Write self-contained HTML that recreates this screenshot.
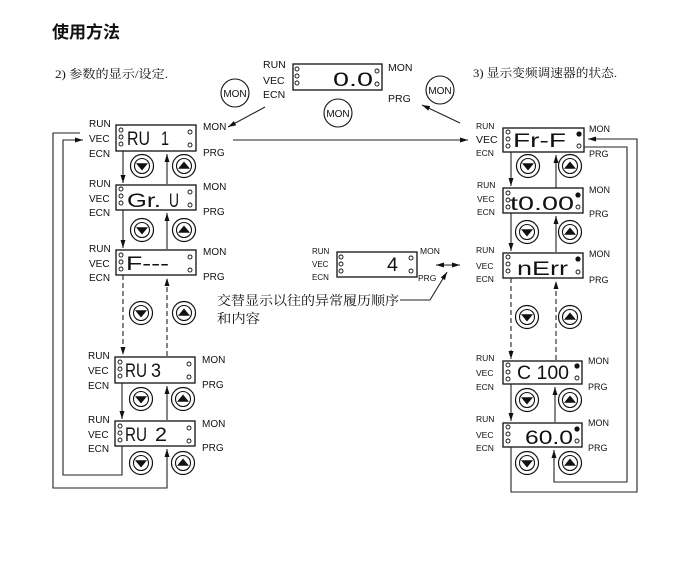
<!DOCTYPE html>
<html><head><meta charset="utf-8">
<style>
html,body{margin:0;padding:0;background:#fff;}
svg{display:block;}
.lb{font-family:"Liberation Sans",Arial,sans-serif;fill:#111;}
.dg{font-family:"Liberation Sans Narrow","Liberation Sans",sans-serif;font-size:19px;fill:#111;}
.cj{font-family:"Liberation Serif","Noto Serif CJK SC","Noto Sans CJK SC",serif;fill:#111;}
.ln{fill:none;stroke:#222;stroke-width:1.1;}
.bx{fill:#fff;stroke:#111;stroke-width:1.3;}
.led{fill:#fff;stroke:#111;stroke-width:0.9;}
</style></head>
<body>
<svg width="673" height="576" viewBox="0 0 673 576" xmlns="http://www.w3.org/2000/svg">
<defs>
<marker id="ar" viewBox="0 0 8 6" markerWidth="8" markerHeight="6" refX="8" refY="3" orient="auto-start-reverse" markerUnits="userSpaceOnUse"><path d="M0,0.5 L8,3 L0,5.5 z" fill="#111"/></marker>
<g id="dn"><circle r="11.5" fill="#fff" stroke="#111" stroke-width="1.2"/><circle r="7.5" fill="none" stroke="#111" stroke-width="1.1"/><path d="M-6,-2.8 L6,-2.8 L0,4.5z" fill="#111"/></g>
<g id="up"><circle r="11.5" fill="#fff" stroke="#111" stroke-width="1.2"/><circle r="7.5" fill="none" stroke="#111" stroke-width="1.1"/><path d="M-6,2.8 L6,2.8 L0,-4.5z" fill="#111"/></g>
<g id="mon"><circle r="14" fill="#fff" stroke="#111" stroke-width="1.1"/></g>
</defs>

<!-- headings -->
<text class="cj" x="52" y="38" font-size="17" font-weight="bold" style="font-family:'Noto Sans CJK SC',sans-serif" textLength="68" lengthAdjust="spacingAndGlyphs">使用方法</text>
<text class="cj" x="55" y="78" font-size="12" textLength="113" lengthAdjust="spacingAndGlyphs">2) 参数的显示/设定.</text>
<text class="cj" x="473" y="77" font-size="12" textLength="144" lengthAdjust="spacingAndGlyphs">3) 显示变频调速器的状态.</text>

<!-- top center box -->
<rect class="bx" x="293" y="64" width="89" height="26"/>
<circle class="led" cx="297" cy="69" r="2"/><circle class="led" cx="297" cy="76" r="2"/><circle class="led" cx="297" cy="83" r="2"/>
<circle class="led" cx="377" cy="71" r="2"/><circle class="led" cx="377" cy="84" r="2"/>
<text class="dg" x="333" y="86" font-size="18" textLength="40" lengthAdjust="spacingAndGlyphs">0.0</text>
<text class="lb" x="263" y="68" font-size="10.5">RUN</text>
<text class="lb" x="263" y="84" font-size="10.5">VEC</text>
<text class="lb" x="263" y="98" font-size="10.5">ECN</text>
<text class="lb" x="388" y="71" font-size="10.5">MON</text>
<text class="lb" x="388" y="102" font-size="10.5">PRG</text>

<use href="#mon" x="235" y="93"/><text class="lb" x="235" y="97" font-size="10" text-anchor="middle">MON</text>
<use href="#mon" x="338" y="113"/><text class="lb" x="338" y="117" font-size="10" text-anchor="middle">MON</text>
<use href="#mon" x="440" y="90"/><text class="lb" x="440" y="94" font-size="10" text-anchor="middle">MON</text>

<path class="ln" d="M265,107 L228,127" marker-end="url(#ar)"/>
<path class="ln" d="M460,123 L422,105" marker-end="url(#ar)"/>
<path class="ln" d="M233,140 H468" marker-end="url(#ar)"/>

<!-- LEFT COLUMN -->
<!-- B1 -->
<rect class="bx" x="116" y="125" width="80" height="26"/>
<circle class="led" cx="121" cy="130" r="2"/><circle class="led" cx="121" cy="137" r="2"/><circle class="led" cx="121" cy="144" r="2"/>
<circle class="led" cx="190" cy="132" r="2"/><circle class="led" cx="190" cy="145" r="2"/>
<text class="dg" x="127" y="145" textLength="23" lengthAdjust="spacingAndGlyphs">RU</text>
<text class="dg" x="161" y="145" textLength="8" lengthAdjust="spacingAndGlyphs">1</text>
<text class="lb" x="89" y="127" font-size="10">RUN</text>
<text class="lb" x="89" y="142" font-size="10">VEC</text>
<text class="lb" x="89" y="157" font-size="10">ECN</text>
<text class="lb" x="203" y="130" font-size="10">MON</text>
<text class="lb" x="203" y="156" font-size="10">PRG</text>

<!-- B2 -->
<rect class="bx" x="116" y="185" width="80" height="25"/>
<circle class="led" cx="121" cy="189" r="2"/><circle class="led" cx="121" cy="196" r="2"/><circle class="led" cx="121" cy="203" r="2"/>
<circle class="led" cx="190" cy="192" r="2"/><circle class="led" cx="190" cy="205" r="2"/>
<text class="dg" x="127" y="207" textLength="34" lengthAdjust="spacingAndGlyphs">Gr.</text>
<text class="dg" x="169" y="207" textLength="10" lengthAdjust="spacingAndGlyphs">U</text>
<text class="lb" x="89" y="187" font-size="10">RUN</text>
<text class="lb" x="89" y="202" font-size="10">VEC</text>
<text class="lb" x="89" y="216" font-size="10">ECN</text>
<text class="lb" x="203" y="190" font-size="10">MON</text>
<text class="lb" x="203" y="215" font-size="10">PRG</text>

<!-- B3 -->
<rect class="bx" x="116" y="250" width="80" height="25"/>
<circle class="led" cx="121" cy="255" r="2"/><circle class="led" cx="121" cy="262" r="2"/><circle class="led" cx="121" cy="269" r="2"/>
<circle class="led" cx="190" cy="257" r="2"/><circle class="led" cx="190" cy="270" r="2"/>
<text class="dg" x="126" y="270" textLength="43" lengthAdjust="spacingAndGlyphs">F---</text>
<text class="lb" x="89" y="252" font-size="10">RUN</text>
<text class="lb" x="89" y="267" font-size="10">VEC</text>
<text class="lb" x="89" y="281" font-size="10">ECN</text>
<text class="lb" x="203" y="255" font-size="10">MON</text>
<text class="lb" x="203" y="280" font-size="10">PRG</text>

<!-- B4 -->
<rect class="bx" x="115" y="357" width="80" height="26"/>
<circle class="led" cx="120" cy="362" r="2"/><circle class="led" cx="120" cy="369" r="2"/><circle class="led" cx="120" cy="376" r="2"/>
<circle class="led" cx="189" cy="364" r="2"/><circle class="led" cx="189" cy="377" r="2"/>
<text class="dg" x="125" y="377" textLength="22" lengthAdjust="spacingAndGlyphs">RU</text>
<text class="dg" x="151" y="377" textLength="10" lengthAdjust="spacingAndGlyphs">3</text>
<text class="lb" x="88" y="359" font-size="10">RUN</text>
<text class="lb" x="88" y="374" font-size="10">VEC</text>
<text class="lb" x="88" y="389" font-size="10">ECN</text>
<text class="lb" x="202" y="363" font-size="10">MON</text>
<text class="lb" x="202" y="388" font-size="10">PRG</text>

<!-- B5 -->
<rect class="bx" x="115" y="421" width="80" height="25"/>
<circle class="led" cx="120" cy="426" r="2"/><circle class="led" cx="120" cy="433" r="2"/><circle class="led" cx="120" cy="440" r="2"/>
<circle class="led" cx="189" cy="428" r="2"/><circle class="led" cx="189" cy="441" r="2"/>
<text class="dg" x="125" y="441" textLength="22" lengthAdjust="spacingAndGlyphs">RU</text>
<text class="dg" x="155" y="441" textLength="12" lengthAdjust="spacingAndGlyphs">2</text>
<text class="lb" x="88" y="423" font-size="10">RUN</text>
<text class="lb" x="88" y="438" font-size="10">VEC</text>
<text class="lb" x="88" y="452" font-size="10">ECN</text>
<text class="lb" x="202" y="427" font-size="10">MON</text>
<text class="lb" x="202" y="451" font-size="10">PRG</text>

<!-- left connectors -->
<path class="ln" d="M123,151 V183" marker-end="url(#ar)"/>
<path class="ln" d="M167,184 V154" marker-end="url(#ar)"/>
<path class="ln" d="M123,210 V248" marker-end="url(#ar)"/>
<path class="ln" d="M167,249 V213" marker-end="url(#ar)"/>
<path class="ln" d="M123,275 V355" stroke-dasharray="5,3" marker-end="url(#ar)"/>
<path class="ln" d="M167,356 V278" stroke-dasharray="5,3" marker-end="url(#ar)"/>
<path class="ln" d="M122,383 V419" marker-end="url(#ar)"/>
<path class="ln" d="M167,420 V386" marker-end="url(#ar)"/>
<path class="ln" d="M122,446 V475 H63 V140 H83" marker-end="url(#ar)"/>
<path class="ln" d="M80,133 H53 V488 H167 V449" marker-end="url(#ar)"/>

<use href="#dn" x="142" y="166"/><use href="#up" x="184" y="166"/>
<use href="#dn" x="142" y="230"/><use href="#up" x="184" y="230"/>
<use href="#dn" x="141" y="313"/><use href="#up" x="184" y="313"/>
<use href="#dn" x="141" y="399"/><use href="#up" x="183" y="399"/>
<use href="#dn" x="141" y="463"/><use href="#up" x="183" y="463"/>

<!-- MIDDLE small box -->
<rect class="bx" x="337" y="252" width="80" height="25"/>
<circle class="led" cx="341" cy="257" r="2"/><circle class="led" cx="341" cy="264" r="2"/><circle class="led" cx="341" cy="271" r="2"/>
<circle class="led" cx="411" cy="258" r="2"/><circle class="led" cx="411" cy="271" r="2"/>
<text class="dg" x="387" y="271" font-size="17" textLength="11" lengthAdjust="spacingAndGlyphs">4</text>
<text class="lb" x="312" y="254" font-size="8">RUN</text>
<text class="lb" x="312" y="267" font-size="8">VEC</text>
<text class="lb" x="312" y="280" font-size="8">ECN</text>
<text class="lb" x="420" y="254" font-size="8.5">MON</text>
<text class="lb" x="418" y="281" font-size="8.5">PRG</text>
<path class="ln" d="M436,265 H460" marker-start="url(#ar)" marker-end="url(#ar)"/>
<path class="ln" d="M400,300 H430 L447,272" marker-end="url(#ar)"/>
<text class="cj" x="217" y="305" font-size="13" textLength="182" lengthAdjust="spacingAndGlyphs">交替显示以往的异常履历顺序</text>
<text class="cj" x="217" y="323" font-size="13" textLength="43" lengthAdjust="spacingAndGlyphs">和内容</text>

<!-- RIGHT COLUMN -->
<!-- R1 -->
<rect class="bx" x="503" y="128" width="81" height="24"/>
<circle class="led" cx="508" cy="132" r="2"/><circle class="led" cx="508" cy="139" r="2"/><circle class="led" cx="508" cy="146" r="2"/>
<circle cx="579" cy="134" r="2.6" fill="#111"/><circle class="led" cx="579" cy="146" r="2"/>
<text class="dg" x="513" y="147" textLength="53" lengthAdjust="spacingAndGlyphs">Fr-F</text>
<text class="lb" x="476" y="129" font-size="8.5">RUN</text>
<text class="lb" x="476" y="143" font-size="10.5">VEC</text>
<text class="lb" x="476" y="156" font-size="8.5">ECN</text>
<text class="lb" x="589" y="132" font-size="9">MON</text>
<text class="lb" x="589" y="157" font-size="9">PRG</text>

<!-- R2 -->
<rect class="bx" x="503" y="188" width="80" height="25"/>
<circle class="led" cx="508" cy="193" r="2"/><circle class="led" cx="508" cy="200" r="2"/><circle class="led" cx="508" cy="207" r="2"/>
<circle cx="578" cy="195" r="2.6" fill="#111"/><circle class="led" cx="578" cy="207" r="2"/>
<text class="dg" x="510" y="210" textLength="64" lengthAdjust="spacingAndGlyphs">t0.00</text>
<text class="lb" x="477" y="188" font-size="8.5">RUN</text>
<text class="lb" x="477" y="202" font-size="8.5">VEC</text>
<text class="lb" x="477" y="215" font-size="8.5">ECN</text>
<text class="lb" x="589" y="193" font-size="9">MON</text>
<text class="lb" x="589" y="217" font-size="9">PRG</text>

<!-- R3 -->
<rect class="bx" x="503" y="253" width="80" height="25"/>
<circle class="led" cx="508" cy="257" r="2"/><circle class="led" cx="508" cy="264" r="2"/><circle class="led" cx="508" cy="271" r="2"/>
<circle cx="578" cy="259" r="2.6" fill="#111"/><circle class="led" cx="578" cy="272" r="2"/>
<text class="dg" x="517" y="275" textLength="51" lengthAdjust="spacingAndGlyphs">nErr</text>
<text class="lb" x="476" y="253" font-size="8.5">RUN</text>
<text class="lb" x="476" y="269" font-size="8.5">VEC</text>
<text class="lb" x="476" y="282" font-size="8.5">ECN</text>
<text class="lb" x="589" y="257" font-size="9">MON</text>
<text class="lb" x="589" y="283" font-size="9">PRG</text>

<!-- R4 -->
<rect class="bx" x="503" y="361" width="79" height="23"/>
<circle class="led" cx="508" cy="365" r="2"/><circle class="led" cx="508" cy="372" r="2"/><circle class="led" cx="508" cy="379" r="2"/>
<circle cx="577" cy="366" r="2.6" fill="#111"/><circle class="led" cx="577" cy="378" r="2"/>
<text class="dg" x="517" y="379" textLength="52" lengthAdjust="spacingAndGlyphs">C 100</text>
<text class="lb" x="476" y="361" font-size="8.5">RUN</text>
<text class="lb" x="476" y="376" font-size="8.5">VEC</text>
<text class="lb" x="476" y="390" font-size="8.5">ECN</text>
<text class="lb" x="588" y="364" font-size="9">MON</text>
<text class="lb" x="588" y="390" font-size="9">PRG</text>

<!-- R5 -->
<rect class="bx" x="503" y="423" width="79" height="24"/>
<circle class="led" cx="508" cy="427" r="2"/><circle class="led" cx="508" cy="434" r="2"/><circle class="led" cx="508" cy="441" r="2"/>
<circle cx="577" cy="429" r="2.6" fill="#111"/><circle class="led" cx="577" cy="441" r="2"/>
<text class="dg" x="525" y="444" textLength="48" lengthAdjust="spacingAndGlyphs">60.0</text>
<text class="lb" x="476" y="422" font-size="8.5">RUN</text>
<text class="lb" x="476" y="438" font-size="8.5">VEC</text>
<text class="lb" x="476" y="451" font-size="8.5">ECN</text>
<text class="lb" x="588" y="426" font-size="9">MON</text>
<text class="lb" x="588" y="451" font-size="9">PRG</text>

<!-- right connectors -->
<path class="ln" d="M511,152 V186" marker-end="url(#ar)"/>
<path class="ln" d="M556,188 V155" marker-end="url(#ar)"/>
<path class="ln" d="M511,213 V251" marker-end="url(#ar)"/>
<path class="ln" d="M556,252 V216" marker-end="url(#ar)"/>
<path class="ln" d="M511,278 V359" stroke-dasharray="5,3" marker-end="url(#ar)"/>
<path class="ln" d="M556,360 V281" stroke-dasharray="5,3" marker-end="url(#ar)"/>
<path class="ln" d="M511,384 V421" marker-end="url(#ar)"/>
<path class="ln" d="M555,422 V387" marker-end="url(#ar)"/>
<path class="ln" d="M511,447 V492 H637 V139 H588" marker-end="url(#ar)"/>
<path class="ln" d="M584,147 H627 V482 H554 V450" marker-end="url(#ar)"/>

<use href="#dn" x="528" y="166"/><use href="#up" x="570" y="166"/>
<use href="#dn" x="527" y="232"/><use href="#up" x="570" y="232"/>
<use href="#dn" x="527" y="317"/><use href="#up" x="570" y="317"/>
<use href="#dn" x="527" y="400"/><use href="#up" x="570" y="400"/>
<use href="#dn" x="527" y="463"/><use href="#up" x="570" y="463"/>

</svg>
</body></html>
